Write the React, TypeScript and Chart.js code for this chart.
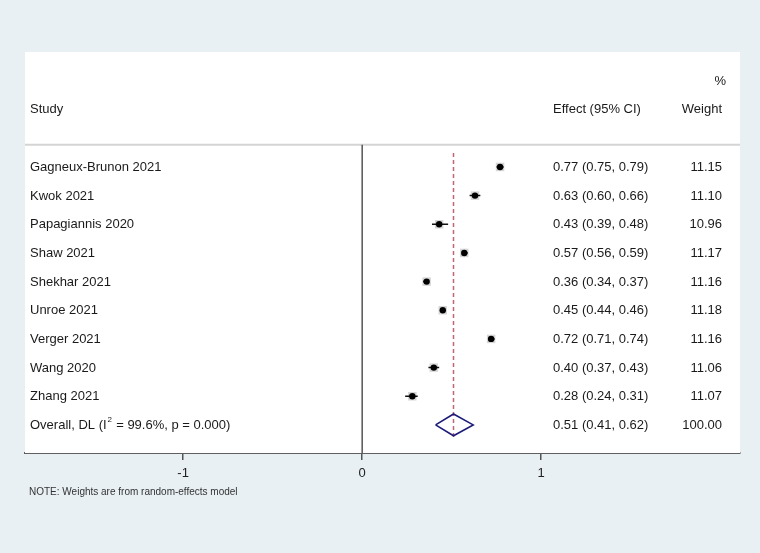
import React, { useEffect, useRef } from "react";
import { Chart, registerables } from "chart.js";

Chart.register(...registerables);

const studies = [
  "Gagneux-Brunon 2021",
  "Kwok 2021",
  "Papagiannis 2020",
  "Shaw 2021",
  "Shekhar 2021",
  "Unroe 2021",
  "Verger 2021",
  "Wang 2020",
  "Zhang 2021",
];
const effects = [0.77, 0.63, 0.43, 0.57, 0.36, 0.45, 0.72, 0.4, 0.28];
const lowers = [0.75, 0.6, 0.39, 0.56, 0.34, 0.44, 0.71, 0.37, 0.24];
const uppers = [0.79, 0.66, 0.48, 0.59, 0.37, 0.46, 0.74, 0.43, 0.31];
const weights = ["11.15", "11.10", "10.96", "11.17", "11.16", "11.18", "11.16", "11.06", "11.07"];
const overallEffect = 0.51;
const overallLower = 0.41;
const overallUpper = 0.62;
const overallWeight = "100.00";
const overallLabelPre = "Overall, DL (I";
const overallLabelSup = "2";
const overallLabelPost = " = 99.6%, p = 0.000)";
const xTicks = [-1, 0, 1];
const noteText = "NOTE: Weights are from random-effects model";

const X_MIN = -1.883;
const X_MAX = 2.11;
const Y_MIN = -4.01;
const Y_MAX = 9.98;
const FONT = "'Liberation Sans', Arial, sans-serif";

const fmt = (v: number) => v.toFixed(2);

export default function App() {
  const ref = useRef<HTMLCanvasElement | null>(null);
  useEffect(() => {
    const canvas = ref.current;
    if (!canvas) return;
    const n = studies.length;

    const ciData: any[] = [];
    studies.forEach((_, i) => {
      ciData.push({ x: lowers[i], y: i });
      ciData.push({ x: uppers[i], y: i });
      ciData.push({ x: null, y: null });
    });
    const pts = effects.map((e, i) => ({ x: e, y: i }));
    const dRow = n;
    const diamond = [
      { x: overallLower, y: dRow },
      { x: overallEffect, y: dRow - 0.38 },
      { x: overallUpper, y: dRow },
      { x: overallEffect, y: dRow + 0.38 },
      { x: overallLower, y: dRow },
    ];

    const textPlugin = {
      id: "forestText",
      beforeDatasetsDraw(chart: any) {
        const { ctx, chartArea, scales } = chart;
        const ys = scales.y;
        ctx.save();
        ctx.fillStyle = "#ffffff";
        ctx.fillRect(chartArea.left, chartArea.top, chartArea.right - chartArea.left, chartArea.bottom - chartArea.top);
        const sepY = ys.getPixelForValue(-0.77);
        ctx.strokeStyle = "#d4d4d4";
        ctx.lineWidth = 2;
        ctx.beginPath();
        ctx.moveTo(chartArea.left, sepY);
        ctx.lineTo(chartArea.right, sepY);
        ctx.stroke();
        ctx.restore();
      },
      afterDraw(chart: any) {
        const { ctx, scales, chartArea } = chart;
        const ys = scales.y;
        ctx.save();
        ctx.fillStyle = "#1a1a1a";
        ctx.font = `13px ${FONT}`;
        ctx.textBaseline = "middle";
        const labelX = 30;
        const effX = 553;
        const wX = 722;
        ctx.textAlign = "left";
        ctx.fillText("Study", labelX, ys.getPixelForValue(-2));
        ctx.fillText("Effect (95% CI)", effX, ys.getPixelForValue(-2));
        ctx.textAlign = "right";
        ctx.fillText("Weight", wX, ys.getPixelForValue(-2));
        ctx.fillText("%", 726, ys.getPixelForValue(-3));
        studies.forEach((s, i) => {
          const y = ys.getPixelForValue(i) + 0.5;
          ctx.textAlign = "left";
          ctx.fillText(s, labelX, y);
          ctx.fillText(`${fmt(effects[i])} (${fmt(lowers[i])}, ${fmt(uppers[i])})`, effX, y);
          ctx.textAlign = "right";
          ctx.fillText(weights[i], wX, y);
        });
        const oy = ys.getPixelForValue(n) + 0.5;
        ctx.textAlign = "left";
        ctx.fillText(overallLabelPre, labelX, oy);
        const w = ctx.measureText(overallLabelPre).width;
        ctx.font = `8px ${FONT}`;
        ctx.fillText(overallLabelSup, labelX + w + 1, oy - 6);
        ctx.font = `13px ${FONT}`;
        ctx.fillText(overallLabelPost, labelX + w + 6, oy);
        ctx.fillText(`${fmt(overallEffect)} (${fmt(overallLower)}, ${fmt(overallUpper)})`, effX, oy);
        ctx.textAlign = "right";
        ctx.fillText(overallWeight, wX, oy);
        ctx.textAlign = "left";
        ctx.font = `10px ${FONT}`;
        ctx.fillStyle = "#333333";
        ctx.fillText(noteText, 29, chartArea.bottom + 39);
        ctx.restore();
      },
    };

    const chart = new Chart(canvas, {
      type: "scatter",
      data: {
        datasets: [
          {
            type: "line",
            order: 6,
            data: [
              { x: 0, y: -0.77 },
              { x: 0, y: Y_MAX },
            ],
            borderColor: "#555555",
            borderWidth: 1.5,
            pointRadius: 0,
            showLine: true,
          } as any,
          {
            type: "line",
            order: 5,
            data: [
              { x: overallEffect, y: -0.49 },
              { x: overallEffect, y: 9.42 },
            ],
            borderColor: "#bf6677",
            borderWidth: 1.5,
            borderDash: [4, 3],
            pointRadius: 0,
            showLine: true,
          } as any,
          {
            order: 4,
            data: pts,
            pointStyle: "rect",
            pointRadius: 6,
            backgroundColor: "#d6d6d6",
            borderWidth: 0,
          } as any,
          {
            type: "line",
            order: 3,
            data: ciData,
            borderColor: "#111111",
            borderWidth: 1.5,
            pointRadius: 0,
            spanGaps: false,
            showLine: true,
          } as any,
          {
            order: 2,
            data: pts,
            pointStyle: "circle",
            pointRadius: 3.2,
            backgroundColor: "#000000",
            borderWidth: 0,
          } as any,
          {
            type: "line",
            order: 1,
            data: diamond,
            borderColor: "#1c1c78",
            borderWidth: 1.6,
            pointRadius: 0,
            fill: false,
            showLine: true,
          } as any,
        ],
      },
      options: {
        animation: false,
        responsive: false,
        maintainAspectRatio: false,
        layout: { padding: { left: 25, right: 20, top: 52, bottom: 0 } },
        plugins: { legend: { display: false }, tooltip: { enabled: false } },
        scales: {
          x: {
            type: "linear",
            min: X_MIN,
            max: X_MAX,
            afterBuildTicks: (scale: any) => {
              scale.ticks = xTicks.map((v) => ({ value: v }));
            },
            afterFit: (scale: any) => {
              scale.height = 100;
            },
            grid: {
              drawOnChartArea: false,
              drawTicks: true,
              tickLength: 7,
              color: "#555555",
              lineWidth: 1.5,
            },
            border: { display: true, color: "#606060", width: 2 },
            ticks: {
              color: "#222222",
              font: { family: FONT, size: 13 },
              padding: 6,
              callback: (v: any) => String(v),
            },
          },
          y: {
            type: "linear",
            display: false,
            reverse: true,
            min: Y_MIN,
            max: Y_MAX,
          },
        },
      },
      plugins: [textPlugin],
    });
    return () => chart.destroy();
  }, []);

  return (
    <div style={{ position: "fixed", left: 0, top: 0, width: 760, height: 553, background: "#e8f0f3" }}>
      <canvas ref={ref} width={760} height={553} style={{ display: "block", width: 760, height: 553 }} />
    </div>
  );
}
